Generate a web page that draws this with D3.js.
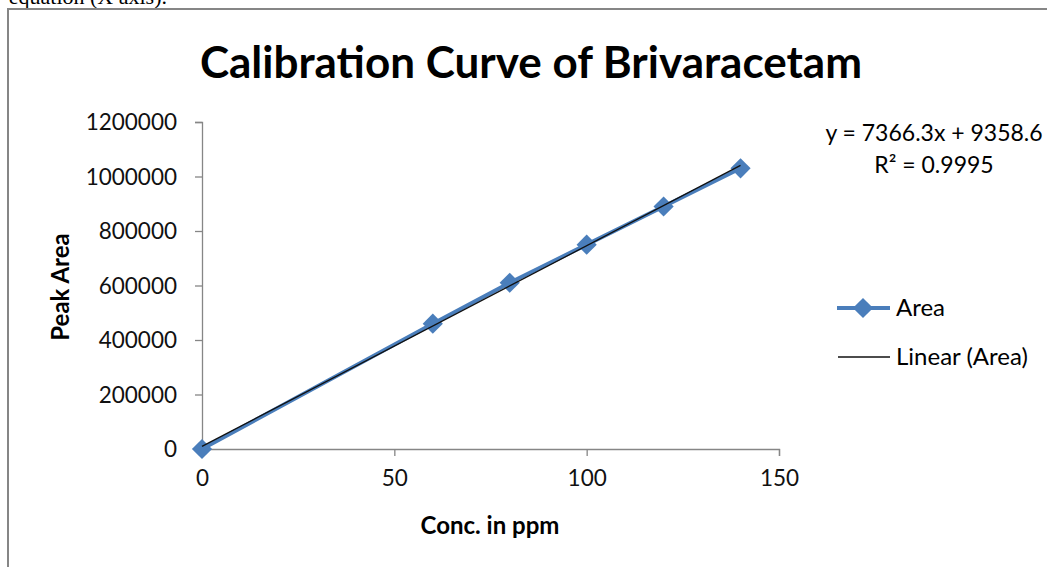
<!DOCTYPE html>
<html>
<head>
<meta charset="utf-8">
<script src="https://cdn.jsdelivr.net/npm/d3@7"></script>
<style>
  body { margin: 0; background: #fff; }
  svg { display: block; }
</style>
</head>
<body>
<svg id="chart" width="1047" height="567"></svg>
<script>
// data
var conc = [0, 60, 80, 100, 120, 140];
var area = [0, 460000, 610000, 750000, 890000, 1030000];
var xTicks = [0, 50, 100, 150];
var yTicks = [0, 200000, 400000, 600000, 800000, 1000000, 1200000];
var slope = 7366.3, intercept = 9358.6;

var svg = d3.select("#chart");
var font = "Lato, 'Open Sans', sans-serif";
var blue = "#4a7ebb", gray = "#868686";

// bit of the document text above the chart
svg.append("text")
  .attr("x", 167).attr("y", 4)
  .attr("text-anchor", "end")
  .attr("font-family", "'Liberation Serif', serif")
  .attr("font-size", 22)
  .text("equation (X axis).");

// chart frame
svg.append("rect")
  .attr("x", 8).attr("y", 9)
  .attr("width", 1100).attr("height", 600)
  .attr("fill", "none")
  .attr("stroke", gray)
  .attr("stroke-width", 2);

svg.append("text")
  .attr("x", 531).attr("y", 78)
  .attr("text-anchor", "middle")
  .attr("font-family", font)
  .attr("font-weight", "bold")
  .attr("font-size", 44)
  .text("Calibration Curve of Brivaracetam");

var x = d3.scaleLinear().domain([0, 150]).range([202, 779]);
var y = d3.scaleLinear().domain([0, 1200000]).range([449, 122]);

var gx = svg.append("g")
  .attr("transform", "translate(0," + y(0) + ")")
  .call(d3.axisBottom(x).tickValues(xTicks).tickSize(7).tickPadding(14));
var gy = svg.append("g")
  .attr("transform", "translate(" + x(0) + ",0)")
  .call(d3.axisLeft(y).tickValues(yTicks).tickSize(7).tickPadding(18).tickFormat(d3.format("d")));

[gx, gy].forEach(function(g) {
  g.select(".domain").attr("stroke", gray).attr("stroke-width", 1.3);
  g.selectAll(".tick line").attr("stroke", gray).attr("stroke-width", 1.3);
  g.selectAll(".tick text")
    .attr("font-family", font)
    .attr("font-size", 22.5)
    .attr("fill", "#111");
});
gy.selectAll(".tick text").attr("dy", "0.35em");

svg.append("text")
  .attr("transform", "translate(69,287) rotate(-90)")
  .attr("text-anchor", "middle")
  .attr("font-family", font)
  .attr("font-weight", "bold")
  .attr("font-size", 24)
  .text("Peak Area");

svg.append("text")
  .attr("x", 490).attr("y", 534)
  .attr("text-anchor", "middle")
  .attr("font-family", font)
  .attr("font-weight", "bold")
  .attr("font-size", 24)
  .text("Conc. in ppm");

// data series
var pts = conc.map(function(c, i) { return [c, area[i]]; });
var line = d3.line()
  .x(function(d) { return x(d[0]); })
  .y(function(d) { return y(d[1]); });

svg.append("path")
  .datum(pts)
  .attr("d", line)
  .attr("fill", "none")
  .attr("stroke", blue)
  .attr("stroke-width", 4);

var diamond = d3.symbol().type(d3.symbolDiamond2).size(260);
svg.selectAll(".pt")
  .data(pts)
  .enter().append("path")
  .attr("class", "pt")
  .attr("transform", function(d) { return "translate(" + x(d[0]) + "," + y(d[1]) + ")"; })
  .attr("d", diamond)
  .attr("fill", blue);

// linear trendline
var x0 = d3.min(conc), x1 = d3.max(conc);
svg.append("path")
  .datum([[x0, slope * x0 + intercept], [x1, slope * x1 + intercept]])
  .attr("d", line)
  .attr("stroke", "#111")
  .attr("stroke-width", 1.3);

// equation
svg.append("text")
  .attr("x", 934).attr("y", 141)
  .attr("text-anchor", "middle")
  .attr("font-family", font)
  .attr("font-size", 23)
  .text("y = " + slope + "x + " + intercept);
svg.append("text")
  .attr("x", 934).attr("y", 173)
  .attr("text-anchor", "middle")
  .attr("font-family", font)
  .attr("font-size", 23)
  .text("R² = 0.9995");

// legend
var lg = svg.append("g").attr("font-family", font).attr("font-size", 24);
lg.append("line")
  .attr("x1", 837).attr("x2", 890).attr("y1", 308).attr("y2", 308)
  .attr("stroke", blue).attr("stroke-width", 4);
lg.append("path")
  .attr("transform", "translate(863,308)")
  .attr("d", diamond)
  .attr("fill", blue);
lg.append("text").attr("x", 896).attr("y", 316).text("Area");
lg.append("line")
  .attr("x1", 838).attr("x2", 890).attr("y1", 357).attr("y2", 357)
  .attr("stroke", "#111").attr("stroke-width", 1.3);
lg.append("text").attr("x", 896).attr("y", 365).text("Linear (Area)");
</script>
</body>
</html>
